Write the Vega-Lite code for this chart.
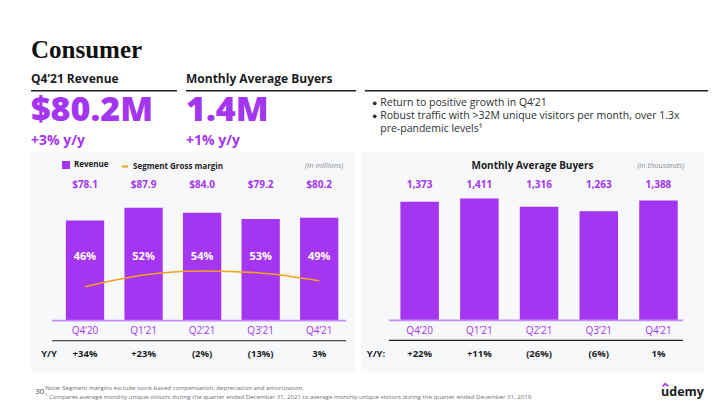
{
  "$schema": "https://vega.github.io/schema/vega-lite/v6.json",
  "background": "white",
  "padding": {"left": 30, "top": 0, "right": 0, "bottom": 0},
  "spacing": 2,
  "config": {"view": {"stroke": null}, "font": "Open Sans", "text": {"font": "Open Sans"}},
  "datasets": {
    "kpis": [
      {"kpi": "Revenue", "role": "title", "text": "Consumer"},
      {"kpi": "Revenue", "role": "label", "text": "Q4’21 Revenue"},
      {"kpi": "Revenue", "role": "value", "text": "$80.2M"},
      {"kpi": "Revenue", "role": "change", "text": "+3% y/y"},
      {"kpi": "Buyers", "role": "label", "text": "Monthly Average Buyers"},
      {"kpi": "Buyers", "role": "value", "text": "1.4M"},
      {"kpi": "Buyers", "role": "change", "text": "+1% y/y"}
    ],
    "bullets": [
      {"line": "l1", "dot": true, "text": "Return to positive growth in Q4’21"},
      {"line": "l2", "dot": true, "text": "Robust traffic with >32M unique visitors per month, over 1.3x"},
      {"line": "l3", "dot": false, "text": "pre-pandemic levels¹"}
    ],
    "revenue": [
      {"quarter": "Q4’20", "revenue": 78.1, "margin": 0.46, "yoy": "+34%"},
      {"quarter": "Q1’21", "revenue": 87.9, "margin": 0.52, "yoy": "+23%"},
      {"quarter": "Q2’21", "revenue": 84.0, "margin": 0.54, "yoy": "(2%)"},
      {"quarter": "Q3’21", "revenue": 79.2, "margin": 0.53, "yoy": "(13%)"},
      {"quarter": "Q4’21", "revenue": 80.2, "margin": 0.49, "yoy": "3%"}
    ],
    "buyers": [
      {"quarter": "Q4’20", "buyers": 1373, "yoy": "+22%"},
      {"quarter": "Q1’21", "buyers": 1411, "yoy": "+11%"},
      {"quarter": "Q2’21", "buyers": 1316, "yoy": "(26%)"},
      {"quarter": "Q3’21", "buyers": 1263, "yoy": "(6%)"},
      {"quarter": "Q4’21", "buyers": 1388, "yoy": "1%"}
    ],
    "footer": [
      {"part": "page", "text": "30"},
      {"part": "note1", "text": "Note: Segment margins exclude stock-based compensation, depreciation and amortization."},
      {"part": "note2", "text": "¹ Compares average monthly unique visitors during the quarter ended December 31, 2021 to average monthly unique visitors during the quarter ended December 31, 2019."}
    ],
    "brand": [{"brand": "udemy"}]
  },
  "vconcat": [
    {
      "spacing": 7,
      "hconcat": [
        {
          "width": 146, "height": 150,
          "data": {"name": "kpis"},
          "transform": [{"filter": "datum.kpi === 'Revenue'"}],
          "encoding": {
            "y": {"field": "role", "type": "nominal", "scale": {"type": "point", "domain": ["title", "label", "value", "change"], "range": [50, 138], "padding": 0}, "axis": null}
          },
          "layer": [
            {"transform": [{"filter": "datum.role === 'title'"}], "mark": {"type": "text", "align": "left", "baseline": "middle", "font": "Liberation Serif", "fontSize": 25, "fontWeight": "bold", "color": "#111111"},
             "encoding": {"x": {"field": "kpi", "type": "nominal", "scale": {"type": "point", "padding": 0, "align": 0}, "axis": null}, "text": {"field": "text"}}},
            {"transform": [{"filter": "datum.role === 'label'"}], "mark": {"type": "text", "align": "left", "baseline": "middle", "fontSize": 12, "fontWeight": "bold", "color": "#1c1d1f", "dy": -0.6},
             "encoding": {"x": {"field": "kpi", "type": "nominal"}, "text": {"field": "text"}}},
            {"transform": [{"filter": "datum.role === 'label'"}], "mark": {"type": "rule", "yOffset": 11.4, "color": "#1c1d1f", "strokeWidth": 1.4}},
            {"transform": [{"filter": "datum.role === 'value'"}], "mark": {"type": "text", "align": "left", "baseline": "middle", "fontSize": 34, "fontWeight": 800, "color": "#A435F0", "dy": 2.5},
             "encoding": {"x": {"field": "kpi", "type": "nominal"}, "text": {"field": "text"}}},
            {"transform": [{"filter": "datum.role === 'change'"}], "mark": {"type": "text", "align": "left", "baseline": "middle", "fontSize": 14, "fontWeight": "bold", "color": "#A435F0", "dy": 3},
             "encoding": {"x": {"field": "kpi", "type": "nominal"}, "text": {"field": "text"}}}
          ]
        },
        {
          "width": 170, "height": 150,
          "data": {"name": "kpis"},
          "transform": [{"filter": "datum.kpi === 'Buyers'"}],
          "encoding": {
            "y": {"field": "role", "type": "nominal", "scale": {"type": "point", "domain": ["title", "label", "value", "change"], "range": [50, 138], "padding": 0}, "axis": null}
          },
          "layer": [
            {"transform": [{"filter": "datum.role === 'label'"}], "mark": {"type": "text", "align": "left", "baseline": "middle", "fontSize": 12, "fontWeight": "bold", "color": "#1c1d1f", "dy": -0.6},
             "encoding": {"x": {"field": "kpi", "type": "nominal", "scale": {"type": "point", "padding": 0, "align": 0}, "axis": null}, "text": {"field": "text"}}},
            {"transform": [{"filter": "datum.role === 'label'"}], "mark": {"type": "rule", "yOffset": 11.4, "color": "#1c1d1f", "strokeWidth": 1.4}},
            {"transform": [{"filter": "datum.role === 'value'"}], "mark": {"type": "text", "align": "left", "baseline": "middle", "fontSize": 34, "fontWeight": 800, "color": "#A435F0", "dy": 2.5},
             "encoding": {"x": {"field": "kpi", "type": "nominal"}, "text": {"field": "text"}}},
            {"transform": [{"filter": "datum.role === 'change'"}], "mark": {"type": "text", "align": "left", "baseline": "middle", "fontSize": 14, "fontWeight": "bold", "color": "#A435F0", "dy": 3},
             "encoding": {"x": {"field": "kpi", "type": "nominal"}, "text": {"field": "text"}}}
          ]
        },
        {
          "width": 343, "height": 150,
          "data": {"name": "bullets"},
          "encoding": {
            "y": {"field": "line", "type": "nominal", "scale": {"type": "point", "domain": ["l1", "l2", "l3"], "range": [103.3, 129.3], "padding": 0}, "axis": null}
          },
          "layer": [
            {"transform": [{"filter": "datum.line === 'l1'"}], "mark": {"type": "rule", "yOffset": -12.6, "color": "#1c1d1f", "strokeWidth": 1.4}},
            {"transform": [{"filter": "datum.dot"}], "mark": {"type": "circle", "size": 14, "opacity": 1, "color": "#2d2f31"},
             "encoding": {"x": {"datum": "dot", "scale": {"type": "point", "domain": ["dot", "text"], "range": [7, 18]}, "axis": null}}},
            {"mark": {"type": "text", "align": "left", "baseline": "middle", "fontSize": 10.5, "color": "#2d2f31"},
             "encoding": {"x": {"datum": "text"}, "text": {"field": "text"}}}
          ]
        }
      ]
    },
    {
      "spacing": 6,
      "hconcat": [
        {
          "width": 324, "height": 220,
          "view": {"fill": "#F7F8FA"},
          "data": {"name": "revenue"},
          "resolve": {"scale": {"y": "independent"}},
          "layer": [
            {
              "layer": [
                {"mark": {"type": "bar", "color": "#A435F0"},
                 "encoding": {
                   "x": {"field": "quarter", "type": "nominal", "sort": null, "scale": {"type": "band", "domain": ["Q4’20", "Q1’21", "Q2’21", "Q3’21", "Q4’21"], "paddingInner": 0.346, "paddingOuter": 0.44, "align": 0.677, "round": false}, "axis": null},
                   "y": {"field": "revenue", "type": "quantitative", "scale": {"domain": [-39.95, 131.4], "nice": false, "zero": false}, "axis": null},
                   "color": {"datum": "Revenue", "type": "nominal",
                     "scale": {"domain": ["Revenue", "Segment Gross margin"], "range": ["#A435F0", "#F4A019"]},
                     "legend": {"orient": "none", "legendX": 31, "legendY": 161, "direction": "horizontal", "title": null, "padding": 0,
                       "labelFont": "Open Sans", "labelFontSize": 8, "labelFontWeight": "bold", "labelColor": "#1c1d1f",
                       "symbolSize": 36, "labelOffset": 4, "columnPadding": 9,
                       "encode": {"symbols": {"update": {
                         "shape": {"signal": "datum.value === 'Revenue' ? 'square' : 'stroke'"},
                         "fill": {"signal": "datum.value === 'Revenue' ? '#A435F0' : 'transparent'"},
                         "stroke": {"signal": "datum.value === 'Revenue' ? 'transparent' : '#F4A019'"},
                         "strokeWidth": {"value": 2},
                         "opacity": {"value": 1}
                       }}}}
                   }
                 }},
                {"mark": {"type": "text", "baseline": "middle", "fontSize": 10, "fontWeight": "bold", "color": "#A435F0"},
                 "encoding": {"x": {"field": "quarter", "type": "nominal"}, "y": {"datum": 105.7}, "text": {"field": "revenue", "type": "quantitative", "format": "$.1f"}}},
                {"mark": {"type": "text", "baseline": "middle", "fontSize": 11, "fontWeight": "bold", "color": "white"},
                 "encoding": {"x": {"field": "quarter", "type": "nominal"}, "y": {"datum": 49.4}, "text": {"field": "margin", "type": "quantitative", "format": ".0%"}}},
                {"data": {"values": [{}]}, "mark": {"type": "rule", "color": "#C38FF5", "strokeWidth": 1.8},
                 "encoding": {"x": {"datum": "Q4’20", "bandPosition": -0.362}, "x2": {"datum": "Q4’21", "bandPosition": 1.204}, "y": {"datum": 0}}},
                {"mark": {"type": "text", "baseline": "middle", "fontSize": 10, "color": "#A435F0"},
                 "encoding": {"x": {"field": "quarter", "type": "nominal"}, "y": {"datum": -8.0}, "text": {"field": "quarter"}}},
                {"data": {"values": [{}]}, "mark": {"type": "rule", "color": "#1c1d1f", "strokeWidth": 1.2},
                 "encoding": {"x": {"datum": "Q4’20", "bandPosition": -0.362}, "x2": {"datum": "Q4’21", "bandPosition": 1.204}, "y": {"datum": -15.6}}},
                {"mark": {"type": "text", "baseline": "middle", "fontSize": 9.5, "fontWeight": "bold", "color": "#1c1d1f"},
                 "encoding": {"x": {"field": "quarter", "type": "nominal"}, "y": {"datum": -26.1}, "text": {"field": "yoy"}}},
                {"data": {"values": [{"label": "Y/Y"}]}, "mark": {"type": "text", "baseline": "middle", "fontSize": 9.5, "fontWeight": "bold", "color": "#1c1d1f"},
                 "encoding": {"x": {"datum": "Q4’20", "bandPosition": -0.44}, "y": {"datum": -26.1}, "text": {"field": "label"}}},
                {"data": {"values": [{"label": "(in millions)"}]}, "mark": {"type": "text", "align": "right", "baseline": "middle", "fontSize": 7.5, "fontStyle": "italic", "color": "#8a8f94"},
                 "encoding": {"x": {"datum": "Q4’21", "bandPosition": 1.133}, "y": {"datum": 120.5}, "text": {"field": "label"}}}
              ]
            },
            {"mark": {"type": "line", "interpolate": "monotone", "strokeWidth": 1.6},
             "encoding": {
               "x": {"field": "quarter", "type": "nominal"},
               "y": {"field": "margin", "type": "quantitative", "scale": {"domain": [0.0253, 1.1464], "nice": false, "zero": false}, "axis": null},
               "color": {"datum": "Segment Gross margin", "type": "nominal"}
             }}
          ]
        },
        {
          "width": 343, "height": 220,
          "view": {"fill": "#F7F8FA"},
          "data": {"name": "buyers"},
          "layer": [
            {"mark": {"type": "bar", "color": "#A435F0"},
             "encoding": {
               "x": {"field": "quarter", "type": "nominal", "sort": null, "scale": {"type": "band", "domain": ["Q4’20", "Q1’21", "Q2’21", "Q3’21", "Q4’21"], "paddingInner": 0.355, "paddingOuter": 0.55, "align": 0.6, "round": false}, "axis": null},
               "y": {"field": "buyers", "type": "quantitative", "scale": {"domain": [-599, 1950], "nice": false, "zero": false}, "axis": null}
             }},
            {"data": {"values": [{"label": "Monthly Average Buyers"}]}, "mark": {"type": "text", "baseline": "middle", "fontSize": 10, "fontWeight": "bold", "color": "#1c1d1f"},
             "encoding": {"y": {"datum": 1788}, "text": {"field": "label"}}},
            {"data": {"values": [{"label": "(in thousands)"}]}, "mark": {"type": "text", "align": "right", "baseline": "middle", "fontSize": 7.5, "fontStyle": "italic", "color": "#8a8f94"},
             "encoding": {"x": {"datum": "Q4’21", "bandPosition": 1.17}, "y": {"datum": 1788}, "text": {"field": "label"}}},
            {"mark": {"type": "text", "baseline": "middle", "fontSize": 10, "fontWeight": "bold", "color": "#A435F0"},
             "encoding": {"x": {"field": "quarter", "type": "nominal"}, "y": {"datum": 1568}, "text": {"field": "buyers", "type": "quantitative", "format": ","}}},
            {"data": {"values": [{}]}, "mark": {"type": "rule", "color": "#C38FF5", "strokeWidth": 1.8},
             "encoding": {"x": {"datum": "Q4’20", "bandPosition": -0.297}, "x2": {"datum": "Q4’21", "bandPosition": 1.136}, "y": {"datum": 0}}},
            {"mark": {"type": "text", "baseline": "middle", "fontSize": 10, "color": "#A435F0"},
             "encoding": {"x": {"field": "quarter", "type": "nominal"}, "y": {"datum": -124}, "text": {"field": "quarter"}}},
            {"data": {"values": [{}]}, "mark": {"type": "rule", "color": "#1c1d1f", "strokeWidth": 1.2},
             "encoding": {"x": {"datum": "Q4’20", "bandPosition": -0.297}, "x2": {"datum": "Q4’21", "bandPosition": 1.136}, "y": {"datum": -232}}},
            {"mark": {"type": "text", "baseline": "middle", "fontSize": 9.5, "fontWeight": "bold", "color": "#1c1d1f"},
             "encoding": {"x": {"field": "quarter", "type": "nominal"}, "y": {"datum": -394}, "text": {"field": "yoy"}}},
            {"data": {"values": [{"label": "Y/Y:"}]}, "mark": {"type": "text", "baseline": "middle", "fontSize": 9.5, "fontWeight": "bold", "color": "#1c1d1f"},
             "encoding": {"x": {"datum": "Q4’20", "bandPosition": -0.635}, "y": {"datum": -394}, "text": {"field": "label"}}}
          ]
        }
      ]
    },
    {
      "spacing": 6,
      "hconcat": [
        {
          "width": 622, "height": 31,
          "data": {"name": "footer"},
          "encoding": {
            "y": {"field": "part", "type": "nominal", "scale": {"type": "point", "domain": ["note1", "page", "note2"], "range": [14, 22.5], "padding": 0}, "axis": null}
          },
          "layer": [
            {"transform": [{"filter": "datum.part === 'page'"}], "mark": {"type": "text", "align": "center", "baseline": "middle", "fontSize": 8, "color": "#444444"},
             "encoding": {"x": {"datum": "page", "scale": {"type": "point", "domain": ["page", "note"], "range": [6, 17]}, "axis": null}, "text": {"field": "text"}}},
            {"transform": [{"filter": "datum.part !== 'page'"}], "mark": {"type": "text", "align": "left", "baseline": "middle", "fontSize": 6.1, "color": "#6a6f73"},
             "encoding": {"x": {"datum": "note"}, "text": {"field": "text"}}}
          ]
        },
        {
          "width": 45, "height": 31,
          "data": {"name": "brand"},
          "encoding": {"x": {"field": "brand", "type": "nominal", "scale": {"type": "point", "padding": 0, "align": 0}, "axis": null}},
          "layer": [
            {"mark": {"type": "text", "align": "left", "baseline": "middle", "fontSize": 12.5, "fontWeight": "bold", "color": "#1c1d1f", "dy": 2}, "encoding": {"text": {"field": "brand"}}},
            {"mark": {"type": "point", "shape": "M-1,0.5L0,-0.5L1,0.5", "size": 30, "filled": false, "strokeWidth": 1.6, "color": "#A435F0", "opacity": 1, "xOffset": 4.3, "yOffset": -4.5}}
          ]
        }
      ]
    }
  ]
}
